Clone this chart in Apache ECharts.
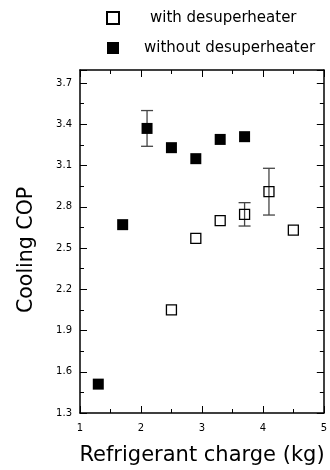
<!DOCTYPE html>
<html><head><meta charset="utf-8">
<script src="https://cdn.jsdelivr.net/npm/echarts@6/dist/echarts.min.js"></script>
<style>html,body{margin:0;padding:0;background:#fff}#c{width:330px;height:470px}</style>
</head><body><div id="c"></div>
<script>
var seriesNames = ['with desuperheater', 'without desuperheater'];
var withX = [2.5, 2.9, 3.3, 3.7, 4.1, 4.5];
var withY = [2.05, 2.57, 2.70, 2.745, 2.91, 2.63];
var withoutX = [1.3, 1.7, 2.1, 2.5, 2.9, 3.3, 3.7];
var withoutY = [1.51, 2.67, 3.37, 3.23, 3.15, 3.29, 3.31];
// error bars
var errX = [2.1, 3.7, 4.1];
var errLow = [3.24, 2.66, 2.74];
var errHigh = [3.50, 2.83, 3.08];
var xTicks = [1, 2, 3, 4, 5];
var yTicks = [1.3, 1.6, 1.9, 2.2, 2.5, 2.8, 3.1, 3.4, 3.7];
var xTitle = 'Refrigerant charge (kg)';
var yTitle = 'Cooling COP';

var FONT = '"DejaVu Sans", sans-serif';
var yMin = 1.3, yMax = 3.795;
function pair(xs, ys){ return xs.map(function(x,i){return [x, ys[i]];}); }
var errData = errX.map(function(x,i){return [x, errLow[i], errHigh[i]];});

function yAx(pos, major, labels){
  return {
    type:'value', position:pos, min:yMin, max:yMax, interval: major?0.3:0.15,
    axisLine:{show:major, lineStyle:{color:'#000', width:1.5}},
    axisTick:{show:true, inside:true, length: major?7:4, lineStyle:{color:'#000', width:1}},
    axisLabel:{show:labels, color:'#000', fontSize:10, fontFamily:FONT, margin:8,
      formatter:function(v){
        for (var i=0;i<yTicks.length;i++){ if (Math.abs(yTicks[i]-v) < 1e-6) return yTicks[i].toFixed(1); }
        return '';
      }},
    splitLine:{show:false}
  };
}
function xAx(pos, labels){
  return {
    type:'value', position:pos, min:1, max:5, interval:1,
    axisLine:{show:true, lineStyle:{color:'#000', width:1.5}},
    axisTick:{show:true, inside:true, length:7, lineStyle:{color:'#000', width:1}},
    minorTick:{show:true, splitNumber:2, length:4, lineStyle:{color:'#000', width:1}},
    axisLabel:{show:labels, color:'#000', fontSize:10, fontFamily:FONT, margin:10,
      formatter:function(v){ return xTicks.indexOf(v) >= 0 ? String(v) : ''; }},
    splitLine:{show:false}
  };
}

var chart = echarts.init(document.getElementById('c'), null, {renderer:'canvas'});
chart.setOption({
  animation:false,
  backgroundColor:'#fff',
  grid:{left:80, right:2, top:70, bottom:57, containLabel:false},
  legend:{
    orient:'vertical', left:106, top:10.5, padding:0, itemWidth:12, itemHeight:12, itemGap:15,
    data:seriesNames,
    textStyle:{fontSize:15, color:'#000', fontFamily:FONT,
      rich:{
        a:{fontSize:15, fontFamily:FONT, color:'#000', padding:[0,0,0,26]},
        b:{fontSize:15, fontFamily:FONT, color:'#000', padding:[0,0,0,20]}
      }},
    formatter:function(n){ return n === seriesNames[0] ? '{a|' + n + '}' : '{b|' + n + '}'; }
  },
  xAxis:[xAx('bottom', true), xAx('top', false)],
  yAxis:[yAx('left', true, true), yAx('left', false, false), yAx('right', true, false), yAx('right', false, false)],
  graphic:[
    {type:'text', x:202, y:456, style:{text:xTitle, fontSize:21, fontFamily:FONT, fill:'#000', textAlign:'center', textVerticalAlign:'middle'}},
    {type:'text', x:27, y:313, rotation:Math.PI/2, style:{text:yTitle, fontSize:20.5, fontFamily:FONT, fill:'#000', textAlign:'left', textVerticalAlign:'middle'}}
  ],
  series:[
    {
      type:'custom', name:'err', xAxisIndex:0, yAxisIndex:0, z:1,
      data:errData,
      renderItem:function(params, api){
        var x = api.value(0);
        var lo = api.coord([x, api.value(1)]);
        var hi = api.coord([x, api.value(2)]);
        var w = 6;
        var st = {stroke:'#444', lineWidth:1.3};
        return {type:'group', children:[
          {type:'line', shape:{x1:lo[0], y1:lo[1], x2:hi[0], y2:hi[1]}, style:st},
          {type:'line', shape:{x1:lo[0]-w, y1:lo[1], x2:lo[0]+w, y2:lo[1]}, style:st},
          {type:'line', shape:{x1:hi[0]-w, y1:hi[1], x2:hi[0]+w, y2:hi[1]}, style:st}
        ]};
      }
    },
    {
      type:'scatter', name:seriesNames[0], xAxisIndex:0, yAxisIndex:0, z:2,
      symbol:'rect', symbolSize:10,
      itemStyle:{color:'rgba(255,255,255,0)', borderColor:'#000', borderWidth:1.3, opacity:1},
      data:pair(withX, withY)
    },
    {
      type:'scatter', name:seriesNames[1], xAxisIndex:0, yAxisIndex:0, z:3,
      symbol:'rect', symbolSize:11,
      itemStyle:{color:'#000', opacity:1},
      data:pair(withoutX, withoutY)
    }
  ]
});
</script>
</body></html>
